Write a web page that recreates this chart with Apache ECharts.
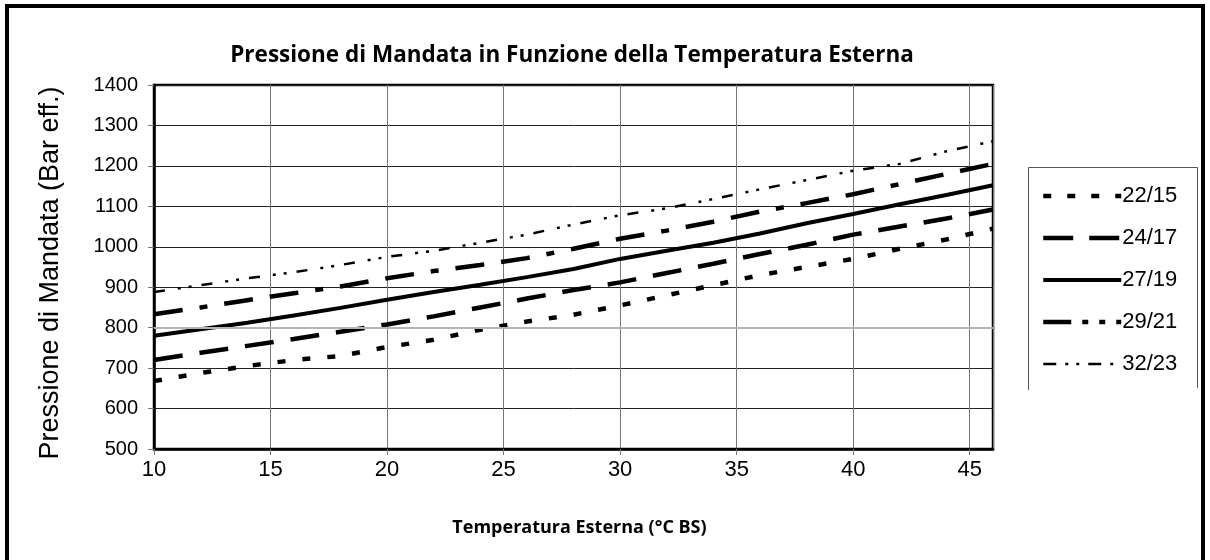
<!DOCTYPE html>
<html>
<head>
<meta charset="utf-8">
<script src="https://cdn.jsdelivr.net/npm/echarts@6/dist/echarts.min.js"></script>
<style>
  html, body { margin: 0; padding: 0; background: #fff; }
  #chart { width: 1210px; height: 560px; }
</style>
</head>
<body>
<div id="chart"></div>
<script>
// Outdoor temperature (°C BS) sampling points
const temps = [10, 12, 14, 16, 18, 20, 22, 24, 26, 28, 30, 32, 34, 36, 38, 40, 42, 44, 46];

// Discharge pressure per indoor condition (bulb temperatures)
const p22_15 = [668, 688, 705, 720, 730, 752, 770, 795, 815, 832, 855, 880, 905, 930, 950, 970, 995, 1018, 1045];
const p24_17 = [833, 850, 868, 885, 902, 922, 940, 955, 972, 995, 1020, 1040, 1062, 1087, 1108, 1130, 1155, 1180, 1205];
const p27_19 = [780, 796, 812, 830, 849, 869, 888, 906, 925, 945, 970, 990, 1010, 1033, 1058, 1081, 1105, 1128, 1152];
const p29_21 = [720, 738, 755, 772, 790, 808, 828, 850, 872, 893, 912, 935, 958, 982, 1005, 1030, 1050, 1070, 1092];
const p32_23 = [888, 905, 922, 937, 955, 975, 990, 1010, 1030, 1055, 1078, 1095, 1118, 1142, 1165, 1188, 1205, 1236, 1261];

const seriesNames = ['22/15', '24/17', '27/19', '29/21', '32/23'];
const seriesValues = [p22_15, p24_17, p27_19, p29_21, p32_23];

const xTicks = [10, 15, 20, 25, 30, 35, 40, 45];
const lightGridValue = 800;

const titleText = 'Pressione di Mandata in Funzione della Temperatura Esterna';
const xName = 'Temperatura Esterna (°C BS)';
const yName = 'Pressione di Mandata (Bar eff.)';

// Stroke width, dash pattern along the curve, dash pattern in the legend key
const styles = [
  { width: 4.5, type: [8, 17],                    key: [8, 16] },
  { width: 4.5, type: [29, 17, 8, 17, 29, 17],    key: [30, 16] },
  { width: 4,   type: 'solid',                    key: 'solid' },
  { width: 4.5, type: [29, 17],                   key: [28, 11, 6, 11, 6, 11] },
  { width: 2.5, type: [11, 13, 3, 8, 3, 10],      key: [13, 9, 3, 8, 3, 9] }
];

const chart = echarts.init(document.getElementById('chart'), null, { renderer: 'canvas' });

const series = seriesNames.map((name, k) => ({
  name: name,
  type: 'line',
  symbol: 'none',
  showSymbol: false,
  smooth: false,
  z: 3,
  lineStyle: { color: '#000', width: styles[k].width, type: styles[k].type, cap: 'butt' },
  itemStyle: { color: '#000' },
  data: temps.map((t, i) => [t, seriesValues[k][i]])
}));

// Lighter grid line drawn beneath the curves
series.push({
  name: 'grid-800',
  type: 'line',
  z: 1,
  data: [],
  markLine: {
    silent: true,
    symbol: 'none',
    label: { show: false },
    lineStyle: { color: '#b4b4b4', width: 2, type: 'solid' },
    data: [{ yAxis: lightGridValue }]
  }
});

const legendData = seriesNames.map((name, k) => ({
  name: name,
  itemStyle: { opacity: 0 },
  lineStyle: { color: '#000', width: styles[k].width, type: styles[k].key, cap: 'butt' }
}));

chart.setOption({
  animation: false,
  backgroundColor: '#fff',
  title: {
    text: titleText,
    left: 567,
    top: 39,
    textAlign: 'center',
    textStyle: { fontFamily: 'Open Sans', fontWeight: 'bold', fontSize: 22.5, color: '#000' }
  },
  legend: {
    orient: 'vertical',
    left: 1036,
    top: 180,
    itemWidth: 78,
    itemHeight: 14,
    itemGap: 20,
    itemStyle: { opacity: 0 },
    lineStyle: { width: 'inherit' },
    textStyle: { fontFamily: 'Liberation Sans', fontSize: 22, color: '#000', padding: [0, 0, 0, -4] },
    data: legendData
  },
  grid: {
    left: 154, top: 85, width: 839, height: 364,
    show: true, borderColor: '#000', borderWidth: 2.5, backgroundColor: '#fff'
  },
  xAxis: {
    type: 'value',
    min: 10, max: 46, interval: 5,
    name: xName,
    nameLocation: 'middle',
    nameGap: 70,
    nameTextStyle: { fontFamily: 'Open Sans', fontWeight: 'bold', fontSize: 18, color: '#000', padding: [0, 0, 0, 12] },
    axisLine: { show: true, lineStyle: { color: '#000', width: 2.5 } },
    axisTick: { show: true, length: 6, lineStyle: { color: '#777' } },
    axisLabel: {
      fontFamily: 'Liberation Sans', fontSize: 22, color: '#000', margin: 10,
      formatter: v => (xTicks.indexOf(v) >= 0 ? String(v) : ''),
      showMaxLabel: false
    },
    splitLine: { show: true, lineStyle: { color: '#777', width: 1 } }
  },
  yAxis: {
    type: 'value',
    min: 500, max: 1400, interval: 100,
    name: yName,
    nameLocation: 'middle',
    nameGap: 90,
    nameRotate: 90,
    nameTextStyle: { fontFamily: 'Liberation Sans', fontSize: 27, color: '#000', padding: [0, 12, 0, 0] },
    axisLine: { show: true, lineStyle: { color: '#000', width: 2.5 } },
    axisTick: { show: true, length: 6, lineStyle: { color: '#777' } },
    axisLabel: { fontFamily: 'Liberation Sans', fontSize: 20, color: '#000', margin: 16, formatter: v => String(v) },
    splitLine: { show: true, lineStyle: { color: '#222', width: 1 } }
  },
  graphic: [
    {
      type: 'rect',
      shape: { x: 7, y: 6, width: 1196, height: 570 },
      style: { fill: 'none', stroke: '#000', lineWidth: 4 },
      silent: true, z: 100
    },
    {
      type: 'polyline',
      shape: { points: [[1028.5, 390], [1028.5, 167.5], [1197.5, 167.5], [1197.5, 388]] },
      style: { fill: 'none', stroke: '#555', lineWidth: 1 },
      silent: true, z: 100
    }
  ],
  series: series
});
</script>
</body>
</html>
